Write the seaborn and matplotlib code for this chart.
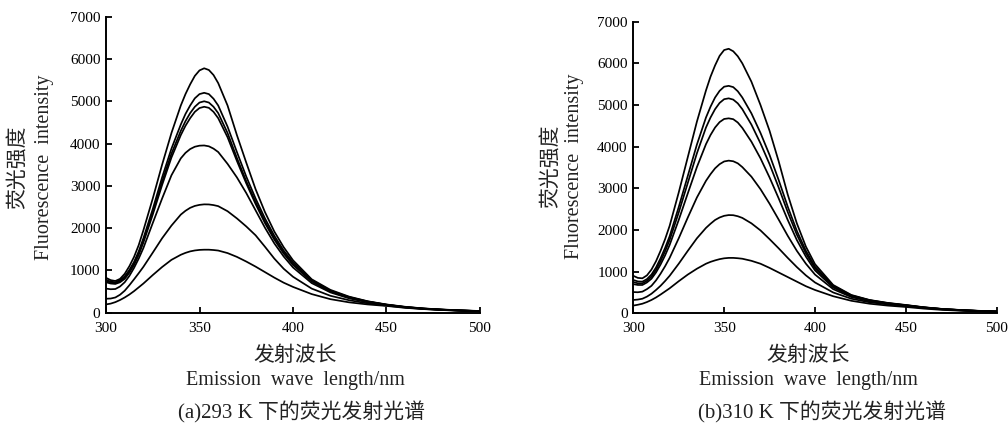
import matplotlib
matplotlib.use("Agg")
import matplotlib.pyplot as plt
import seaborn as sns
import pandas as pd

# ---------------- data ----------------
wavelength = [300, 302.5, 305, 307.5, 310, 312.5, 315, 317.5, 320, 325, 330, 335, 340,
              342.5, 345, 347.5, 350, 352.5, 355, 357.5, 360, 365, 370, 375, 380, 385,
              390, 395, 400, 410, 420, 430, 440, 450, 460, 470, 480, 490, 500]

# (a) 293 K
a1 = [825, 770, 750, 800, 920, 1100, 1320, 1600, 1950, 2700, 3500, 4250, 4900,
      5170, 5400, 5600, 5730, 5780, 5740, 5620, 5430, 4900, 4200, 3550, 2920, 2380,
      1920, 1550, 1240, 790, 540, 380, 270, 195, 140, 100, 75, 55, 40]
a2 = [780, 735, 720, 770, 860, 1010, 1200, 1450, 1760, 2450, 3200, 3880, 4450,
      4700, 4900, 5070, 5170, 5200, 5170, 5060, 4900, 4400, 3800, 3220, 2700, 2230,
      1820, 1470, 1190, 770, 520, 370, 265, 190, 135, 98, 72, 53, 38]
a3 = [750, 712, 700, 745, 830, 980, 1170, 1410, 1710, 2380, 3100, 3760, 4300,
      4530, 4720, 4870, 4970, 5000, 4970, 4870, 4720, 4250, 3660, 3110, 2620, 2160,
      1760, 1430, 1150, 750, 510, 360, 260, 188, 133, 96, 70, 52, 37]
a4 = [720, 690, 680, 720, 800, 945, 1130, 1370, 1660, 2320, 3020, 3670, 4200,
      4420, 4600, 4750, 4840, 4870, 4845, 4750, 4600, 4150, 3590, 3060, 2570, 2120,
      1730, 1400, 1130, 740, 500, 355, 255, 185, 130, 95, 70, 51, 37]
a5 = [570, 555, 560, 620, 720, 870, 1060, 1280, 1530, 2120, 2700, 3250, 3650,
      3780, 3870, 3925, 3950, 3955, 3935, 3880, 3800, 3520, 3200, 2830, 2420, 2010,
      1640, 1330, 1070, 700, 480, 340, 245, 180, 128, 92, 68, 50, 36]
a6 = [330, 335, 360, 425, 520, 650, 790, 935, 1085, 1420, 1760, 2060, 2320,
      2410, 2480, 2525, 2550, 2562, 2560, 2545, 2520, 2400, 2230, 2040, 1830, 1560,
      1280, 1040, 850, 570, 400, 295, 220, 168, 122, 88, 65, 48, 35]
a7 = [196, 215, 250, 300, 360, 430, 510, 600, 690, 890, 1080, 1250, 1370,
      1415, 1450, 1472, 1485, 1490, 1490, 1482, 1470, 1410, 1320, 1210, 1090, 960,
      830, 710, 610, 440, 320, 245, 195, 160, 115, 85, 62, 46, 34]

# (b) 310 K
b1 = [900, 850, 840, 910, 1050, 1250, 1500, 1780, 2100, 2900, 3750, 4600, 5350,
      5680, 5950, 6180, 6320, 6350, 6290, 6170, 6000, 5560, 5000, 4380, 3650, 2850,
      2160, 1600, 1180, 680, 440, 320, 250, 200, 145, 105, 80, 60, 45]
b2 = [800, 765, 760, 820, 930, 1100, 1320, 1570, 1850, 2550, 3300, 4050, 4700,
      4960, 5180, 5340, 5440, 5460, 5430, 5330, 5180, 4800, 4330, 3800, 3200, 2560,
      1980, 1500, 1120, 660, 430, 315, 245, 195, 142, 103, 78, 58, 44]
b3 = [750, 720, 720, 780, 880, 1040, 1250, 1490, 1760, 2420, 3130, 3840, 4460,
      4700, 4900, 5050, 5140, 5160, 5130, 5040, 4900, 4530, 4080, 3580, 3020, 2430,
      1890, 1440, 1080, 645, 420, 310, 240, 192, 140, 102, 77, 57, 43]
b4 = [700, 680, 680, 740, 830, 980, 1170, 1390, 1640, 2240, 2880, 3510, 4060,
      4280, 4460, 4590, 4665, 4680, 4660, 4580, 4450, 4120, 3720, 3260, 2760, 2240,
      1760, 1360, 1030, 620, 410, 300, 235, 188, 138, 100, 76, 56, 42]
b5 = [510, 505, 520, 580, 660, 790, 950, 1130, 1330, 1800, 2300, 2780, 3180,
      3340, 3480, 3580, 3645, 3665, 3650, 3600, 3510, 3280, 2980, 2630, 2250, 1860,
      1500, 1190, 930, 580, 390, 290, 228, 184, 135, 98, 74, 55, 41]
b6 = [320, 330, 350, 400, 470, 560, 660, 775, 900, 1190, 1500, 1800, 2050,
      2150, 2240, 2300, 2340, 2358, 2355, 2330, 2290, 2160, 1990, 1780, 1560, 1330,
      1110, 910, 740, 500, 350, 265, 212, 172, 128, 93, 70, 52, 39]
b7 = [185, 205, 230, 270, 320, 380, 450, 525, 600, 770, 930, 1070, 1190,
      1235, 1270, 1300, 1320, 1330, 1330, 1322, 1310, 1260, 1190, 1090, 980, 870,
      760, 650, 560, 410, 300, 230, 185, 152, 112, 82, 62, 46, 34]

panel_a = [a1, a2, a3, a4, a5, a6, a7]
panel_b = [b1, b2, b3, b4, b5, b6, b7]

x_ticks = [300, 350, 400, 450, 500]
y_ticks = [0, 1000, 2000, 3000, 4000, 5000, 6000, 7000]

ylabel_cn = "荧光强度"
ylabel_en = "Fluorescence  intensity"
xlabel_cn = "发射波长"
xlabel_en = "Emission  wave  length/nm"
captions = ["(a)293 K 下的荧光发射光谱", "(b)310 K 下的荧光发射光谱"]

# ---------------- style ----------------
sns.set_style("ticks")
plt.rcParams["font.family"] = ["Liberation Serif", "Noto Sans CJK SC"]
plt.rcParams["axes.linewidth"] = 1.4
plt.rcParams["lines.solid_joinstyle"] = "round"

fig = plt.figure(figsize=(10.08, 4.28), dpi=100)
fig.patch.set_facecolor("white")

ax_a = fig.add_axes([0.10516, 0.26939, 0.37103, 0.69159])
ax_b = fig.add_axes([0.62827, 0.26799, 0.36052, 0.68131])

for ax, series in ((ax_a, panel_a), (ax_b, panel_b)):
    for s in series:
        df = pd.DataFrame({"wl": wavelength, "fi": s})
        sns.lineplot(data=df, x="wl", y="fi", ax=ax, color="black",
                     linewidth=1.25, errorbar=None)
    ax.set_xlim(300, 500)
    ax.set_ylim(0, 7000)
    ax.set_xticks(x_ticks)
    ax.set_yticks(y_ticks)
    ax.set_xlabel("")
    ax.set_ylabel("")
    ax.tick_params(direction="in", length=4, width=1.3, labelsize=11,
                   colors="black")
    ax.tick_params(axis="x", pad=6.5)
    ax.tick_params(axis="y", pad=4)
    for sp in ("top", "right"):
        ax.spines[sp].set_visible(False)
    for sp in ("left", "bottom"):
        ax.spines[sp].set_color("black")
    ax.set_facecolor("white")

fam = ["Liberation Serif", "Noto Sans CJK SC"]
W, H = 1008.0, 428.0

def px(x, y):
    return x / W, 1 - y / H

# y labels
for (xc, xe, yc) in ((17, 45, 167), (550, 575, 166)):
    fig.text(*px(xc, yc), ylabel_cn, rotation=90, ha="center", va="center",
             fontsize=15, family=["Noto Sans CJK SC"], color="#222222")
    fig.text(*px(xe, yc), ylabel_en, rotation=90, ha="center", va="center",
             fontsize=14.5, family=fam, color="#222222")

# x labels and captions
for xc in (295, 808):
    fig.text(*px(xc, 355), xlabel_cn, ha="center", va="center",
             fontsize=15, family=["Noto Sans CJK SC"], color="#222222")
    fig.text(*px(xc, 380), xlabel_en, ha="center", va="center",
             fontsize=14.5, family=fam, color="#222222")
for (xcap, cap) in zip((302, 822), captions):
    fig.text(*px(xcap, 412), cap, ha="center", va="center",
             fontsize=15, family=fam, color="#222222")

fig.savefig("out.png", dpi=100, facecolor="white")
